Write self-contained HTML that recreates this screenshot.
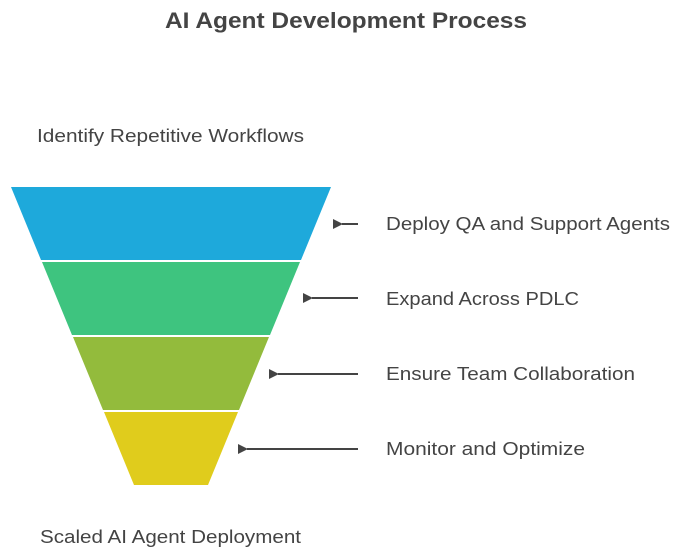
<!DOCTYPE html>
<html><head><style>body{margin:0;background:#fff}svg{display:block}</style></head>
<body>
<svg width="676" height="554" viewBox="0 0 676 554" xmlns="http://www.w3.org/2000/svg" font-family="Liberation Sans, sans-serif">
<defs><marker id="a" viewBox="0 0 10 10" refX="1" refY="5" markerWidth="5" markerHeight="5" orient="auto"><path d="M10,0 L0,5 L10,10 z" fill="#444"/></marker></defs>
<text x="346" y="28" text-anchor="middle" font-size="22" font-weight="bold" fill="#444" textLength="362" lengthAdjust="spacingAndGlyphs">AI Agent Development Process</text>
<polygon points="11,187 331,187 301,260 41,260" fill="#1ea9db"/>
<polygon points="42,262 300,262 270,335 72,335" fill="#3ec47f"/>
<polygon points="73,337 269,337 239,410 103,410" fill="#93bb3c"/>
<polygon points="104,412 238,412 208,485 134,485" fill="#e0cc1c"/>
<g stroke="#444" stroke-width="2" marker-end="url(#a)">
<line x1="358" y1="224" x2="342" y2="224"/>
<line x1="358" y1="298" x2="312" y2="298"/>
<line x1="358" y1="374" x2="278" y2="374"/>
<line x1="358" y1="449" x2="247" y2="449"/>
</g>
<g font-size="18" fill="#444">
<text x="37" y="142" textLength="267" lengthAdjust="spacingAndGlyphs">Identify Repetitive Workflows</text>
<text x="386" y="230" textLength="284" lengthAdjust="spacingAndGlyphs">Deploy QA and Support Agents</text>
<text x="386" y="305" textLength="193" lengthAdjust="spacingAndGlyphs">Expand Across PDLC</text>
<text x="386" y="380" textLength="249" lengthAdjust="spacingAndGlyphs">Ensure Team Collaboration</text>
<text x="386" y="455" textLength="199" lengthAdjust="spacingAndGlyphs">Monitor and Optimize</text>
<text x="40" y="543" textLength="261" lengthAdjust="spacingAndGlyphs">Scaled AI Agent Deployment</text>
</g>
</svg>
</body></html>
